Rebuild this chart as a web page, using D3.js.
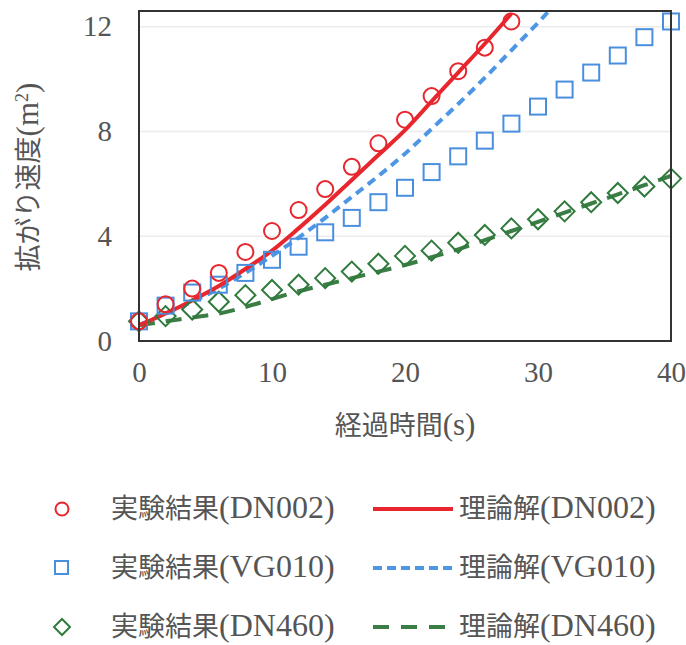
<!DOCTYPE html>
<html>
<head>
<meta charset="utf-8">
<script src="https://cdn.jsdelivr.net/npm/d3@7"></script>
<style>
  body { margin: 0; background: #fff; }
  text { font-family: "Liberation Serif", "Noto Sans CJK JP", serif; fill: #555; }
</style>
</head>
<body>
<div id="chart"></div>
<script>
// measured data (time in s, value in m2)
var expTime = [0, 2, 4, 6, 8, 10, 12, 14, 16, 18, 20, 22, 24, 26, 28, 30, 32, 34, 36, 38, 40];
var expDN002 = [0.75, 1.4, 2.0, 2.6, 3.4, 4.2, 5.0, 5.8, 6.65, 7.55, 8.45, 9.35, 10.3, 11.2, 12.2];
var expVG010 = [0.75, 1.35, 1.85, 2.15, 2.6, 3.1, 3.6, 4.15, 4.7, 5.3, 5.85, 6.45, 7.05, 7.65, 8.3, 8.95, 9.6, 10.25, 10.9, 11.6, 12.2];
var expDN460 = [0.75, 0.95, 1.2, 1.5, 1.75, 1.95, 2.15, 2.4, 2.65, 2.95, 3.25, 3.45, 3.75, 4.05, 4.3, 4.65, 4.95, 5.3, 5.65, 5.9, 6.2];

// theoretical curves
var thTimeDN002 = [0, 2, 4, 6, 8, 10, 12, 14, 16, 18, 20, 22, 24, 26, 28];
var thDN002 = [0.6, 1.05, 1.55, 2.1, 2.75, 3.45, 4.3, 5.2, 6.15, 7.1, 8.05, 9.15, 10.25, 11.35, 12.5];
var thTimeVG010 = [0, 2, 4, 6, 8, 10, 12, 14, 16, 18, 20, 22, 24, 26, 28, 30, 31];
var thVG010 = [0.6, 1.05, 1.5, 2.0, 2.6, 3.25, 3.95, 4.7, 5.5, 6.3, 7.15, 8.1, 9.05, 10.05, 11.1, 12.15, 12.7];
var thTimeDN460 = [0, 2, 4, 6, 8, 10, 12, 14, 16, 18, 20, 22, 24, 26, 28, 30, 32, 34, 36, 38, 40];
var thDN460 = [0.6, 0.75, 0.9, 1.05, 1.3, 1.6, 1.9, 2.15, 2.4, 2.65, 2.9, 3.2, 3.5, 3.85, 4.2, 4.55, 4.9, 5.25, 5.6, 5.95, 6.3];

var xTicks = [0, 10, 20, 30, 40];
var yTicks = [0, 4, 8, 12];

// legend labels: [japanese part, latin part]
var expLabels = [["実験結果", "(DN002)"], ["実験結果", "(VG010)"], ["実験結果", "(DN460)"]];
var thLabels = [["理論解", "(DN002)"], ["理論解", "(VG010)"], ["理論解", "(DN460)"]];

var red = "#e8262e", blue = "#4a8fde", green = "#2f7a3c";

var W = 686, H = 645;
var L = 139, R = 671, T = 11, B = 341;

var svg = d3.select("#chart").append("svg")
    .attr("width", W)
    .attr("height", H);

var x = d3.scaleLinear().domain([0, 40]).range([L, R]);
var y = d3.scaleLinear().domain([0, 12.6]).range([B, T]);

// faint grid
svg.append("g")
  .selectAll("line")
  .data(yTicks.filter(d => d > 0))
  .join("line")
    .attr("x1", L).attr("x2", R)
    .attr("y1", d => y(d)).attr("y2", d => y(d))
    .attr("stroke", "#ececec")
    .attr("stroke-width", 1.5);

// axes (labels only)
var xAxis = svg.append("g")
  .attr("transform", `translate(0,${B})`)
  .call(d3.axisBottom(x).tickValues(xTicks).tickSize(0).tickPadding(20));
xAxis.select(".domain").remove();
xAxis.selectAll("text")
  .style("font-size", "29px")
  .style("font-family", "Liberation Serif")
  .attr("fill", "#555");

var yAxis = svg.append("g")
  .attr("transform", `translate(${L},0)`)
  .call(d3.axisLeft(y).tickValues(yTicks).tickSize(0).tickPadding(27));
yAxis.select(".domain").remove();
yAxis.selectAll("text")
  .style("font-size", "29px")
  .style("font-family", "Liberation Serif")
  .attr("fill", "#555");

// axis titles
var xt = svg.append("text")
  .attr("x", 405).attr("y", 435)
  .attr("text-anchor", "middle");
xt.append("tspan").style("font-size", "27px").text("経過時間");
xt.append("tspan").style("font-size", "31px").text("(s)");

var yt = svg.append("text")
  .attr("transform", "translate(38,177) rotate(-90)")
  .attr("text-anchor", "middle");
yt.append("tspan").style("font-size", "27px").text("拡がり速度");
yt.append("tspan").style("font-size", "31px").text("(m");
yt.append("tspan").attr("dy", -10).style("font-size", "18px").text("2");
yt.append("tspan").attr("dy", 10).style("font-size", "31px").text(")");

// clip
svg.append("clipPath").attr("id", "clip")
  .append("rect").attr("x", L).attr("y", T).attr("width", R - L).attr("height", B - T);

var line = d3.line()
  .x(d => x(d[0]))
  .y(d => y(d[1]))
  .curve(d3.curveMonotoneX);

var plot = svg.append("g").attr("clip-path", "url(#clip)");

plot.append("path")
  .attr("d", line(d3.zip(thTimeDN460, thDN460)))
  .attr("fill", "none").attr("stroke", "#3a7d45").attr("stroke-width", 4)
  .attr("stroke-dasharray", "16,11");
plot.append("path")
  .attr("d", line(d3.zip(thTimeVG010, thVG010)))
  .attr("fill", "none").attr("stroke", "#4d96e6").attr("stroke-width", 4)
  .attr("stroke-dasharray", "9,6");
plot.append("path")
  .attr("d", line(d3.zip(thTimeDN002, thDN002)))
  .attr("fill", "none").attr("stroke", red).attr("stroke-width", 4);

// markers
var sq = 16, dm = 10;
svg.append("g").selectAll("path")
  .data(d3.zip(expTime, expDN460))
  .join("path")
    .attr("d", d => `M${x(d[0])},${y(d[1]) - dm}L${x(d[0]) + dm},${y(d[1])}L${x(d[0])},${y(d[1]) + dm}L${x(d[0]) - dm},${y(d[1])}Z`)
    .attr("fill", "none").attr("stroke", green).attr("stroke-width", 2);

svg.append("g").selectAll("rect")
  .data(d3.zip(expTime, expVG010))
  .join("rect")
    .attr("x", d => x(d[0]) - sq / 2)
    .attr("y", d => y(d[1]) - sq / 2)
    .attr("width", sq).attr("height", sq)
    .attr("fill", "none").attr("stroke", blue).attr("stroke-width", 2);

svg.append("g").selectAll("circle")
  .data(d3.zip(expTime, expDN002))
  .join("circle")
    .attr("cx", d => x(d[0]))
    .attr("cy", d => y(d[1]))
    .attr("r", 8)
    .attr("fill", "none").attr("stroke", red).attr("stroke-width", 2);

// plot frame
svg.append("rect")
  .attr("x", L).attr("y", T).attr("width", R - L).attr("height", B - T)
  .attr("fill", "none").attr("stroke", "#333").attr("stroke-width", 2);

// legend
var rows = [509, 568, 627];
var lg = svg.append("g");

lg.append("circle").attr("cx", 62).attr("cy", rows[0]).attr("r", 6.5)
  .attr("fill", "none").attr("stroke", red).attr("stroke-width", 2);
lg.append("rect").attr("x", 55).attr("y", rows[1] - 7).attr("width", 13).attr("height", 13)
  .attr("fill", "none").attr("stroke", blue).attr("stroke-width", 2);
lg.append("path").attr("d", `M62,${rows[2] - 8}L70,${rows[2]}L62,${rows[2] + 8}L54,${rows[2]}Z`)
  .attr("fill", "none").attr("stroke", green).attr("stroke-width", 2);

function labelText(sel, x0) {
  sel.attr("x", x0)
    .attr("y", (d, i) => rows[i] + 9)
    .each(function(d) {
      var t = d3.select(this);
      t.append("tspan").style("font-size", "27px").text(d[0]);
      t.append("tspan").style("font-size", "32px").text(d[1]);
    });
}

lg.selectAll(".exp")
  .data(expLabels)
  .join("text")
    .attr("class", "exp")
    .call(labelText, 111);

var lineStyles = [
  { c: red, dash: null },
  { c: "#4d96e6", dash: "9,5" },
  { c: "#3a7d45", dash: "16,12" }
];
lg.selectAll(".lgl")
  .data(lineStyles)
  .join("line")
    .attr("class", "lgl")
    .attr("x1", 373).attr("x2", 453)
    .attr("y1", (d, i) => rows[i]).attr("y2", (d, i) => rows[i])
    .attr("stroke", d => d.c)
    .attr("stroke-width", 4)
    .attr("stroke-dasharray", d => d.dash);

lg.selectAll(".th")
  .data(thLabels)
  .join("text")
    .attr("class", "th")
    .call(labelText, 459);
</script>
</body>
</html>
